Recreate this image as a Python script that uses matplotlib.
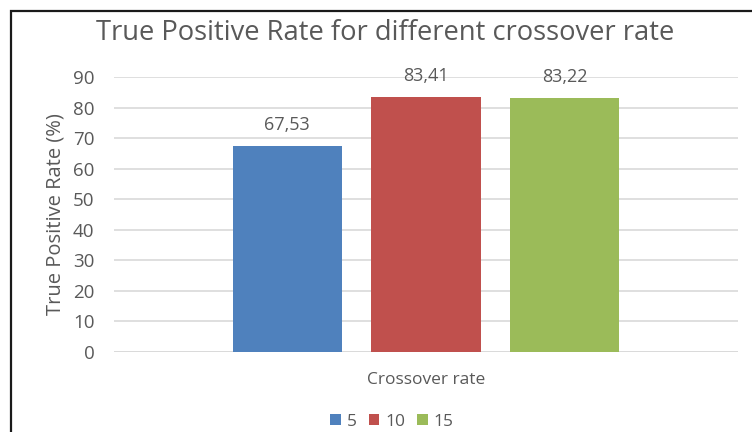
import numpy as np
import matplotlib.pyplot as plt
from matplotlib.patches import Rectangle

# Data
series_names = ['5', '10', '15']
tpr_values = [67.53, 83.41, 83.22]
bar_colors = ['#4f81bd', '#c0504d', '#9bbb59']
y_ticks = [0, 10, 20, 30, 40, 50, 60, 70, 80, 90]

plt.rcParams['font.family'] = ['Open Sans', 'DejaVu Sans']
txt = '#595959'

fig = plt.figure(figsize=(7.52, 4.32), dpi=100)
ax = fig.add_axes([114/752, 1-352/432, 624/752, 275/432])

x = np.arange(len(tpr_values))
bars = ax.bar(x, tpr_values, width=0.79, color=bar_colors, zorder=3)
for b, name in zip(bars, series_names):
    b.set_label(name)

for xi, v in zip(x, tpr_values):
    ax.text(xi, v + 6.9, ('%.2f' % v).replace('.', ','), ha='center', va='center',
            fontsize=13, color=txt)

ax.set_xlim(-1.25, 3.25)
ax.set_ylim(0, 90)
ax.set_yticks(y_ticks)
ax.set_xticks([])
ax.yaxis.grid(True, color='#d9d9d9', linewidth=1.2, zorder=0)
for s in ax.spines.values():
    s.set_visible(False)
ax.axhline(0, color='#d9d9d9', linewidth=1.2, zorder=1)
ax.tick_params(axis='y', length=0, labelsize=13.5, labelcolor=txt, pad=14)

ax.set_ylabel('True Positive Rate (%)', fontsize=14.5, color=txt)
ax.yaxis.set_label_coords(-48/624, 0.5)
fig.text(426/752, 1-380/432, 'Crossover rate', ha='center', va='center',
         fontsize=12.5, color=txt)
fig.text(385/752, 1-33/432, 'True Positive Rate for different crossover rate',
         ha='center', va='center', fontsize=19.7, color=txt)

fig.legend(loc='center', bbox_to_anchor=(392/752, 1-422/432), ncol=3,
           frameon=False, fontsize=12.5, labelcolor=txt, handlelength=0.6,
           handleheight=0.6, handletextpad=0.35, columnspacing=0.7)

# chart border
fig.patches.append(Rectangle((11/752, -0.05), 1.0, 1-11/432 + 0.05,
                             transform=fig.transFigure, fill=False,
                             edgecolor='#1a1a1a', linewidth=1.6))

fig.savefig('out.png', dpi=100)
